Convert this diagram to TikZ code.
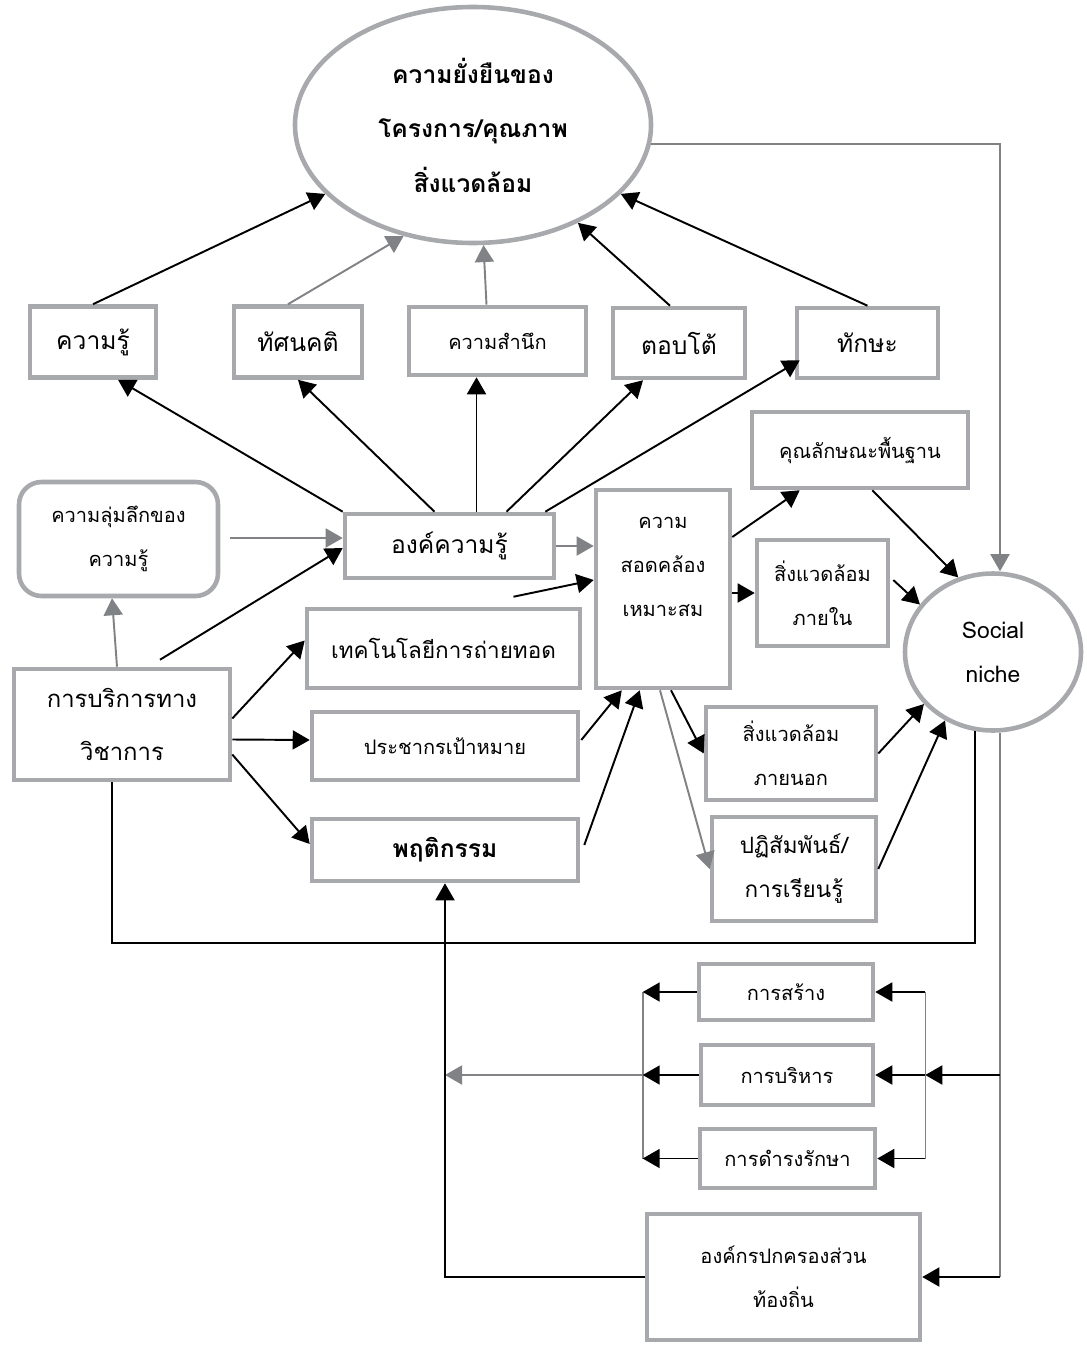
\documentclass[tikz,border=0pt]{standalone}
\usepackage{fontspec}
\newfontfamily\thaifont[Script=Thai]{Loma}
\usetikzlibrary{shapes.geometric}
\usetikzlibrary{calc}
\usetikzlibrary{arrows.meta}
\definecolor{boxgray}{RGB}{167,169,172}
\definecolor{linegray}{RGB}{128,130,133}
\tikzset{
    mybox/.style = {rectangle, draw=boxgray, line width=2.6pt, fill=white, align=center, inner sep=2pt},
    myrbox/.style = {mybox, rounded corners=0.45cm},
    myell/.style = {ellipse, draw=boxgray, line width=2.6pt, fill=white, align=center, inner sep=0pt},
    sz/.style 2 args = {minimum width=#1*0.02cm, minimum height=#2*0.02cm},
    big/.style = {font=\thaifont\fontsize{14}{25}\selectfont},
    mid/.style = {font=\thaifont\fontsize{12.8}{25}\selectfont},
    small/.style = {font=\thaifont\fontsize{11.4}{25}\selectfont},
    edgen/.style = {-{Triangle[length=0.34cm,width=0.38cm]}, line width=1.1pt, black},
    edgeg/.style = {-{Triangle[length=0.34cm,width=0.38cm]}, line width=1.1pt, linegray},
    linen/.style = {line width=1.1pt, black},
    lineg/.style = {line width=0.9pt, linegray}
}
\begin{document}
\begin{tikzpicture}[x=0.02cm, y=-0.02cm]
  \useasboundingbox (0,0) rectangle (1087,1345);

  \node[myell, sz={356}{236}, font=\thaifont\bfseries\fontsize{14}{31}\selectfont] (ell) at (473,125)
    {ความยั่งยืนของ\\โครงการ/คุณภาพ\\สิ่งแวดล้อม};

  \node[mybox, big, sz={126}{71}] (kr) at (93,342) {ความรู้};
  \node[mybox, big, sz={128}{71}] (ts) at (298,342) {ทัศนคติ};
  \node[mybox, small, sz={177}{68}] (ks) at (497.5,341) {ความสำนึก};
  \node[mybox, big, sz={132}{70}] (tb) at (679,343) {ตอบโต้};
  \node[mybox, big, sz={141}{70}] (tk) at (867.5,343) {ทักษะ};

  \node[mybox, big, sz={209}{64}] (okr) at (449.5,546) {องค์ความรู้};
  \node[myrbox, small, sz={199}{114}] (lld) at (118.5,539) {ความลุ่มลึกของ\\ความรู้};
  \node[mybox, big, sz={216}{111}, font=\thaifont\fontsize{13.6}{30}\selectfont] (bs) at (122,724.5) {การบริการทาง\\วิชาการ};
  \node[mybox, mid, sz={273}{79}] (tech) at (443.5,648.5) {เทคโนโลยีการถ่ายทอด};
  \node[mybox, small, sz={266}{68}] (pop) at (445,746) {ประชากรเป้าหมาย};
  \node[mybox, big, sz={266}{62}] (beh) at (445,850) {\bfseries พฤติกรรม};
  \node[mybox, small, sz={134}{198}] (fit) at (663,589) {ความ\\สอดคล้อง\\เหมาะสม\\\mbox{}};

  \node[mybox, small, sz={216}{76}] (chr) at (860,450) {คุณลักษณะพื้นฐาน};
  \node[mybox, small, sz={131}{106}] (inn) at (822.5,593) {สิ่งแวดล้อม\\ภายใน};
  \node[mybox, small, sz={170}{93}] (out) at (791,753.5) {สิ่งแวดล้อม\\ภายนอก};
  \node[mybox, mid, sz={164}{104}] (inter) at (794,869) {ปฏิสัมพันธ์/\\การเรียนรู้};
  \node[myell, sz={176}{157}, font=\thaifont\fontsize{13}{25}\selectfont] (sn) at (993,652) {Social\\niche};

  \node[mybox, small, sz={174}{56}] (bld) at (786,992) {การสร้าง};
  \node[mybox, small, sz={172}{60}] (mgt) at (787,1075) {การบริหาร};
  \node[mybox, small, sz={175}{59}] (mnt) at (787.5,1158.5) {การดำรงรักษา};
  \node[mybox, small, sz={273}{126}] (lao) at (783.5,1277) {องค์กรปกครองส่วน\\ท้องถิ่น};

  % into the top ellipse
  \draw[edgen] (kr.north) -- (ell.205);
  \draw[edgeg] ($(ts.north)+(-10,0)$) -- (ell.238);
  \draw[edgeg] ($(ks.north)+(-11,0)$) -- (ell.275);
  \draw[edgen] ($(tb.north)+(-9,0)$) -- (ell.317);
  \draw[edgen] (tk.north) -- (ell.335);

  % from องค์ความรู้ up
  \coordinate (kst) at ($(okr.north)+(27,0)$);
  \draw[edgen] (okr.north west) -- ($(kr.south)+(25,0)$);
  \draw[edgen] ($(okr.north)+(-15,0)$) -- (ts.south);
  \draw[edgen] (kst) -- (kst |- ks.south);
  \draw[edgen] ($(okr.north)+(57,0)$) -- ($(tb.south)+(-36,0)$);
  \draw[edgen] ($(okr.north east)+(-11,0)$) -- ($(tk.south west)+(5,-20)$);

  \draw[edgeg] ($(lld.east)+(10,-1)$) -- ($(okr.west)+(0,-8)$);
  \draw[edgen] ($(bs.north)+(38,-7)$) -- ($(okr.west)+(0,2)$);
  \draw[edgeg] ($(bs.north)+(-5,0)$) -- ($(lld.south)+(-6.5,0)$);

  \draw[edgen] ($(bs.east)+(0,-6)$) -- ($(tech.west)+(0,-8)$);
  \draw[edgen] ($(bs.east)+(0,15)$) -- ($(pop.west)+(0,-6)$);
  \draw[edgen] ($(bs.east)+(0,30)$) -- ($(beh.west)+(0,-6)$);
  \coordinate (snl) at (sn.257);
  \draw[linen] ($(bs.south)+(-10,0)$) |- ($(snl)+(0,212)$) -- (snl);

  % into and out of ความสอดคล้อง
  \draw[edgeg] (okr.east) -- (okr.east -| fit.west);
  \draw[edgen] ($(tech.north)+(70,-10)$) -- ($(fit.west)+(0,-9)$);
  \draw[edgen] ($(pop.east)+(1,-6)$) -- ($(fit.south west)+(28,0)$);
  \draw[edgen] ($(beh.east)+(4,-5)$) -- ($(fit.south west)+(46,0)$);
  \draw[edgen] ($(fit.east)+(0,-52)$) -- ($(chr.south west)+(50,0)$);
  \draw[edgen] ($(fit.east)+(0,4)$) -- (inn.west);
  \draw[edgen] ($(fit.south)+(8,0)$) -- (out.west);
  \draw[edgeg] ($(fit.south)+(-3,0)$) -- (inter.west);

  % into Social niche
  \draw[edgen] ($(chr.south east)+(-98,0)$) -- (sn.115);
  \draw[edgen] ($(inn.east)+(3,-13)$) -- (sn.147);
  \draw[edgen] (out.east) -- (sn.217);
  \draw[edgen] (inter.east) -- (sn.235);
  \draw[edgeg] (ell.354) -| ($(sn.north)+(7,0)$);

  % bottom part
  \coordinate (rv) at ($(sn.south)+(7,0)$);
  \coordinate (rb) at ($(mgt.east)+(50,0)$);
  \coordinate (lb) at ($(mgt.west)+(-56,0)$);
  \draw[lineg] (rv) -- (rv |- lao.east);
  \draw[edgen] (rv |- lao.east) -- (lao.east);
  \draw[edgen] (rv |- mgt.east) -- (rb);
  \draw[lineg] (rb |- bld.east) -- (rb |- mnt.east);
  \draw[lineg] (lb |- bld.west) -- (lb |- mnt.west);
  \foreach \n in {bld,mgt,mnt}{
    \draw[edgen] (rb |- \n.east) -- (\n.east);
    \draw[edgen] (\n.west) -- (lb |- \n.west);
  }
  \draw[edgeg] (lb) -- (beh.south |- lb);
  \draw[edgen] (lao.west) -| (beh.south);
\end{tikzpicture}
\end{document}
